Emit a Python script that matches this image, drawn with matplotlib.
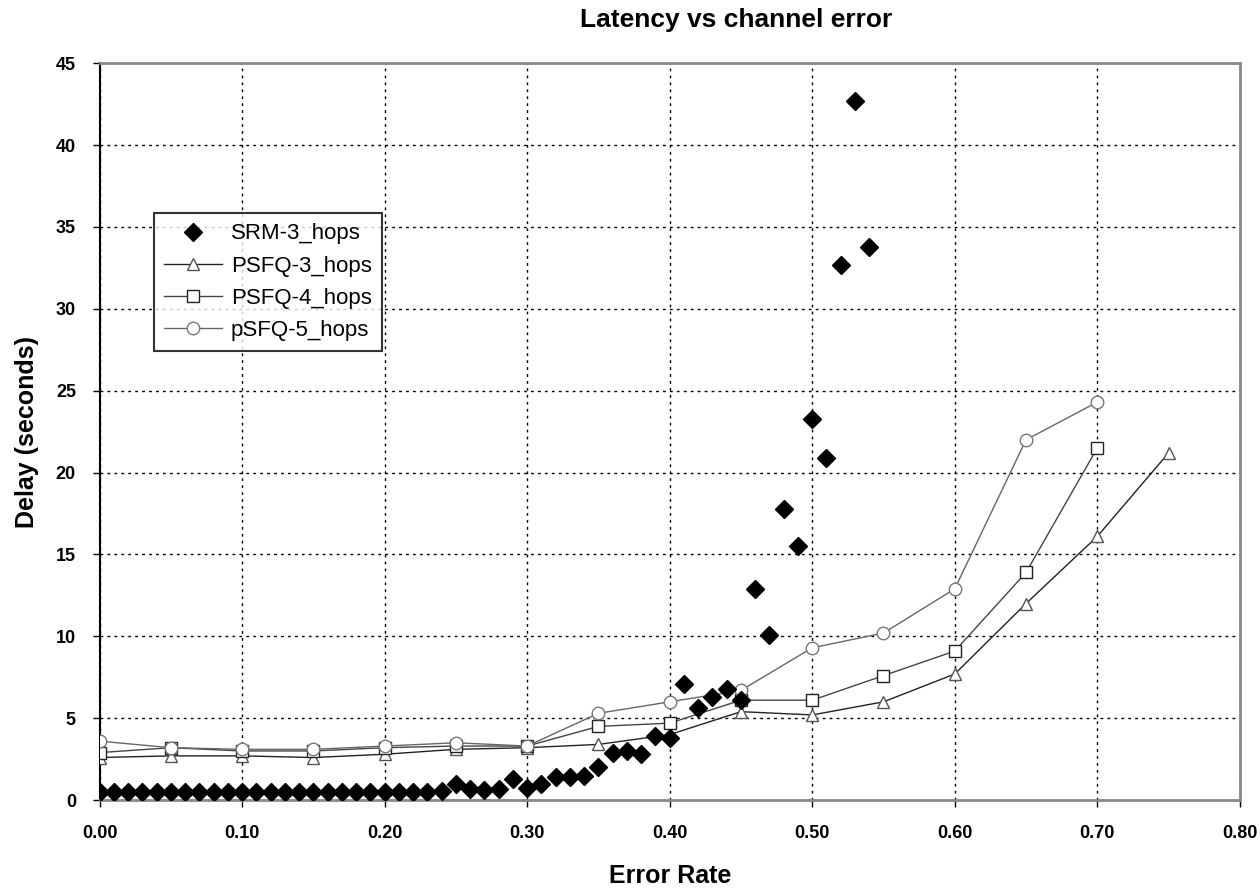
import matplotlib
matplotlib.use("Agg")
import numpy as np
from matplotlib import pyplot as plt

# SRM, 3 hops (one point per 0.01 error rate)
srm_x = [0.00, 0.01, 0.02, 0.03, 0.04, 0.05, 0.06, 0.07, 0.08, 0.09,
         0.10, 0.11, 0.12, 0.13, 0.14, 0.15, 0.16, 0.17, 0.18, 0.19,
         0.20, 0.21, 0.22, 0.23, 0.24, 0.25, 0.26, 0.27, 0.28, 0.29,
         0.30, 0.31, 0.32, 0.33, 0.34, 0.35, 0.36, 0.37, 0.38, 0.39,
         0.40, 0.41, 0.42, 0.43, 0.44, 0.45, 0.46, 0.47, 0.48, 0.49,
         0.50, 0.51, 0.52, 0.53, 0.54]
srm_y = [0.5, 0.5, 0.5, 0.5, 0.5, 0.5, 0.5, 0.5, 0.5, 0.5,
         0.5, 0.5, 0.5, 0.5, 0.5, 0.5, 0.5, 0.5, 0.5, 0.5,
         0.5, 0.5, 0.5, 0.5, 0.55, 1.0, 0.7, 0.6, 0.65, 1.3,
         0.75, 1.0, 1.4, 1.4, 1.5, 2.0, 2.9, 3.0, 2.8, 3.9,
         3.8, 7.1, 5.6, 6.3, 6.8, 6.1, 12.9, 10.1, 17.8, 15.5,
         23.3, 20.9, 32.7, 42.7, 33.8]

# PSFQ runs (one point per 0.05 error rate)
psfq3_x = [0.00, 0.05, 0.10, 0.15, 0.20, 0.25, 0.30, 0.35, 0.40, 0.45, 0.50, 0.55, 0.60, 0.65, 0.70, 0.75]
psfq3_y = [2.6, 2.7, 2.7, 2.6, 2.8, 3.1, 3.2, 3.4, 4.0, 5.4, 5.2, 6.0, 7.7, 12.0, 16.1, 21.2]

psfq4_x = [0.00, 0.05, 0.10, 0.15, 0.20, 0.25, 0.30, 0.35, 0.40, 0.45, 0.50, 0.55, 0.60, 0.65, 0.70]
psfq4_y = [2.9, 3.2, 3.0, 3.0, 3.2, 3.3, 3.3, 4.5, 4.7, 6.1, 6.1, 7.6, 9.1, 13.9, 21.5]

psfq5_x = [0.00, 0.05, 0.10, 0.15, 0.20, 0.25, 0.30, 0.35, 0.40, 0.45, 0.50, 0.55, 0.60, 0.65, 0.70]
psfq5_y = [3.6, 3.2, 3.1, 3.1, 3.3, 3.5, 3.3, 5.3, 6.0, 6.7, 9.3, 10.2, 12.9, 22.0, 24.3]

x_ticks = np.arange(0, 0.81, 0.1)
y_ticks = np.arange(0, 46, 5)

plt.rcParams['font.family'] = ['Liberation Sans', 'DejaVu Sans']

fig = plt.figure(figsize=(12.6, 8.89), dpi=100)
ax = fig.add_axes([0.079, 0.100, 0.905, 0.829])

ax.plot(srm_x, srm_y, linestyle='none', marker='D', markersize=9,
        color='black', label='SRM-3_hops', zorder=5)
ax.plot(psfq3_x, psfq3_y, color='#222222', linewidth=1, marker='^', markersize=9,
        markerfacecolor='white', markeredgecolor='#555555', label='PSFQ-3_hops', zorder=3)
ax.plot(psfq4_x, psfq4_y, color='#444444', linewidth=1, marker='s', markersize=9,
        markerfacecolor='white', markeredgecolor='#222222', label='PSFQ-4_hops', zorder=3)
ax.plot(psfq5_x, psfq5_y, color='#666666', linewidth=1, marker='o', markersize=9,
        markerfacecolor='white', markeredgecolor='#777777', label='pSFQ-5_hops', zorder=3)

ax.set_xlim(0, 0.8)
ax.set_ylim(0, 45)
ax.set_xticks(x_ticks)
ax.set_xticklabels([f'{t:.2f}' for t in x_ticks])
ax.set_yticks(y_ticks)
ax.tick_params(labelsize=13, length=5, width=1, direction='out')
ax.tick_params(axis='x', pad=13)
ax.tick_params(axis='y', pad=12)
for lab in ax.get_xticklabels() + ax.get_yticklabels():
    lab.set_fontweight('bold')

ax.grid(True, color='black', linestyle=(0, (2, 3)), linewidth=1)
ax.set_axisbelow(True)

for s in ['top', 'right', 'bottom']:
    ax.spines[s].set_color('#888888')
    ax.spines[s].set_linewidth(2)
ax.spines['left'].set_color('black')
ax.spines['left'].set_linewidth(1.5)

fig.text(0.584, 0.977, 'Latency vs channel error', fontsize=19, fontweight='bold',
         ha='center', va='center')
ax.set_xlabel('Error Rate', fontsize=18, fontweight='bold', labelpad=16)
ax.set_ylabel('Delay (seconds)', fontsize=18, fontweight='bold', labelpad=12)

leg = ax.legend(loc='upper left', bbox_to_anchor=(0.048, 0.796), fontsize=16,
                frameon=True, fancybox=False, borderpad=0.45, labelspacing=0.5,
                handlelength=2.6, handletextpad=0.4, borderaxespad=0)
leg.get_frame().set_edgecolor('black')
leg.get_frame().set_linewidth(1.5)

fig.savefig('out.png', dpi=100)
